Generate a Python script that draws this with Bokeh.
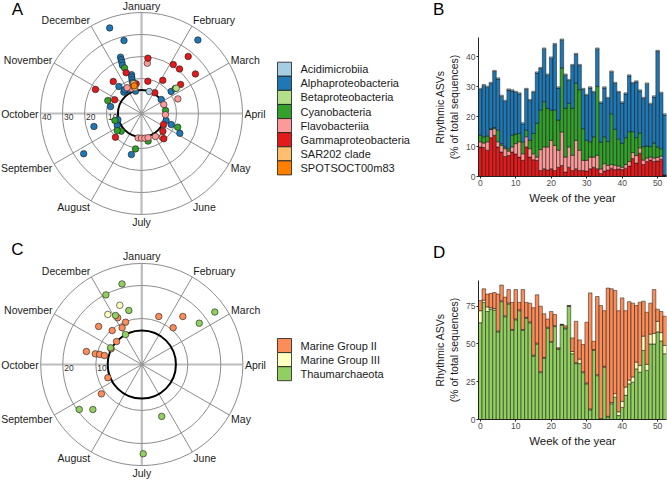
import math
from bokeh.plotting import figure
from bokeh.models import Range1d, FixedTicker, ColumnDataSource, Div
from bokeh.layouts import row, column
from bokeh.embed import file_html
from bokeh.resources import INLINE
from bokeh.core.properties import value

FONT = "Liberation Sans"

months = ["January", "February", "March", "April", "May", "June", "July",
          "August", "September", "October", "November", "December"]

# ---------------- Panel A data (bacteria) ----------------
a_classes = ["Acidimicrobiia", "Alphaproteobacteria", "Betaproteobacteria", "Cyanobacteria",
             "Flavobacteriia", "Gammaproteobacteria", "SAR202 clade", "SPOTSOCT00m83"]
a_colors = ["#a6cee3", "#1f78b4", "#b2df8a", "#33a02c", "#fb9a99", "#e31a1c", "#fdbf6f", "#ff7f00"]

# peak position (month, 0 = start of January) and amplitude for each rhythmic ASV
alpha_month = [11.32, 11.55, 1.25, 11.32, 11.31, 11.30, 11.28, 11.52, 11.50, 11.48, 11.46, 11.02,
               10.68, 11.5, 1.78, 1.82, 9.42, 8.49, 8.50, 7.84, 6.46, 3.53, 3.68, 3.91, 10.67, 10.83, 8.12]
alpha_amp = [35.6, 28.2, 36.2, 21.4, 20.2, 19.0, 17.7, 12.3, 11.2, 10.0, 8.8, 6.4,
             6.7, 4.6, 10.9, 5.1, 8.5, 16.5, 5.2, 26.1, 13.3, 5.7, 8.5, 13.7, 10.1, 7.3, 6.4]
gamma_month = [1.31, 0.22, 1.10, 1.35, 1.79, 0.37, 1.09, 11.31, 10.62, 11.66, 1.09, 9.90,
               9.92, 7.59, 3.89, 4.62, 4.32, 1.78]
gamma_amp = [27.6, 19.4, 20.6, 20.7, 24.5, 9.0, 12.0, 13.9, 13.5, 7.8, 5.3, 7.8,
             17.7, 10.1, 5.3, 9.4, 6.7, 16.2]
flavo_month = [0.22, 2.27, 2.27, 11.27, 11.03, 6.26, 6.0, 5.74, 5.49, 4.63, 4.96, 3.1]
flavo_amp = [17.1, 11.9, 5.0, 6.2, 7.5, 5.3, 5.3, 5.4, 5.5, 8.4, 6.3, 5.0]
cyano_month = [11.32, 1.78, 2.76, 9.70, 8.51, 7.63, 7.83, 5.55, 6.32, 3.69]
cyano_amp = [16.2, 13.2, 5.1, 10.5, 6.6, 6.3, 7.6, 7.0, 10.4, 11.7]
beta_month = [1.80]
beta_amp = [13.6]
acidi_month = [0.64]
acidi_amp = [4.7]
sar202_month = [11.50, 11.51]
sar202_amp = [8.1, 6.2]
spot_month = [11.51]
spot_amp = [7.1]

a_ring_values = [10, 20, 30, 40]
a_threshold = 4.8

# ---------------- Panel C data (archaea) ----------------
c_classes = ["Marine Group II", "Marine Group III", "Thaumarchaeota"]
c_colors = ["#fc8d59", "#ffffbf", "#91cf60"]
mg2_month = [11.09, 11.30, 10.38, 10.63, 11.06, 10.41, 9.44, 9.43, 9.45, 9.45, 8.29, 7.80,
             0.65, 1.35, 1.35, 9.90]
mg2_amp = [12.0, 9.8, 13.5, 9.7, 8.7, 6.4, 13.3, 10.5, 9.2, 7.7, 7.1, 11.2,
           11.5, 15.2, 10.7, 6.5]
mg3_month = [11.32, 10.86]
mg3_amp = [15.2, 14.4]
thaum_month = [11.54, 11.09, 11.55, 11.06, 11.05, 9.94, 7.81, 7.58, 5.30, 5.97, 1.81, 1.81]
thaum_amp = [21.2, 19.8, 12.9, 12.9, 6.4, 6.8, 19.4, 16.2, 12.9, 23.1, 23.3, 17.5]

c_ring_values = [10, 20]
c_max = 26.7
c_threshold = 6.4

# ---------------- Panel B data (weekly stacked, % of total sequences) ----------------
weeks = list(range(53))
b_total = [29.5, 30.8, 30.2, 31.5, 35.5, 33.0, 27.2, 25.5, 29.3, 29.0, 28.5, 28.0, 18.0, 29.5,
           25.8, 28.5, 35.0, 36.5, 43.0, 34.3, 40.0, 44.5, 30.0, 46.0, 34.3, 32.5, 37.5, 41.2,
           37.5, 29.5, 27.5, 30.0, 28.5, 43.0, 25.0, 30.0, 26.5, 35.3, 31.5, 28.5, 25.0, 28.0,
           34.0, 31.5, 32.0, 29.0, 26.5, 31.3, 24.5, 27.0, 42.2, 28.2, 21.0]
b_gamma = [9.9, 9.7, 8.8, 13.0, 13.8, 9.9, 8.2, 6.7, 7.0, 8.2, 7.5, 6.5, 5.4, 9.9,
           6.5, 5.6, 5.4, 2.0, 2.6, 2.2, 2.6, 2.0, 3.1, 3.7, 1.5, 3.1, 2.0, 2.6,
           2.0, 2.0, 1.8, 2.6, 3.1, 2.6, 1.0, 1.8, 2.2, 2.8, 2.3, 2.5, 2.3, 2.8,
           3.5, 6.0, 4.5, 7.8, 4.0, 5.0, 5.5, 5.0, 5.2, 5.8, 0.5]
b_flavo = [1.7, 1.5, 2.8, 2.7, 2.2, 1.7, 2.2, 2.6, 1.5, 1.7, 3.5, 5.1, 2.2, 3.4,
           2.8, 2.0, 1.1, 7.0, 7.3, 7.7, 9.5, 8.4, 5.7, 11.2, 5.0, 6.8, 5.1, 9.5,
           6.8, 3.4, 3.6, 3.9, 3.4, 4.5, 1.5, 2.5, 1.5, 1.2, 1.5, 1.0, 0.8, 1.2,
           1.5, 2.0, 2.5, 1.8, 1.5, 1.2, 1.0, 1.2, 1.2, 1.0, 0.0]
b_cyano = [2.2, 2.1, 1.9, 0.3, 0.4, 3.9, 0.6, 0.6, 0.8, 3.9, 3.2, 2.8, 4.0, 2.2,
           2.8, 6.8, 11.3, 13.2, 15.1, 12.9, 10.1, 11.8, 10.1, 21.4, 16.3, 14.6, 15.7, 19.1,
           20.2, 10.6, 6.7, 5.1, 6.8, 23.0, 9.0, 9.0, 8.0, 17.0, 12.0, 9.0, 8.0, 9.0,
           10.0, 7.0, 6.0, 5.0, 4.5, 4.0, 3.5, 5.0, 3.5, 2.5, 0.0]
b_acidi = [0.4] * 53

# ---------------- Panel D data ----------------
d_total = [78.7, 86.5, 83.0, 83.5, 84.0, 83.0, 89.0, 81.0, 86.0, 77.5, 86.0, 77.5, 86.0, 77.5,
           77.0, 74.0, 82.5, 75.0, 70.0, 66.5, 71.5, 69.5, 47.5, 63.0,
           62.0, 75.5, 54.0, 65.0, 52.7, 49.6, 64.4, 83.8, 51.8, 81.4, 75.4, 72.0, 87.0, 86.5,
           85.4, 72.0, 80.5, 72.0, 78.0, 77.0,
           75.4, 77.6, 78.3, 71.0, 77.0, 86.0, 73.0, 71.5, 68.4]
d_thaum = [64.0, 77.5, 71.5, 73.0, 72.5, 58.0, 78.0, 68.0, 76.5, 59.0, 66.0, 72.0, 59.0, 67.0,
           64.0, 42.0, 50.0, 31.0, 40.5, 60.5, 51.0, 61.5, 46.5, 62.5,
           60.0, 74.8, 43.5, 37.0, 37.0, 31.0, 23.6, 6.4, 45.7, 29.0, 0.0, 34.6, 1.5, 10.4,
           14.8, 2.6, 8.0, 16.0, 23.6, 24.7,
           33.5, 31.3, 45.7, 32.5, 50.0, 50.0, 58.0, 52.0, 43.5]
d_mg3 = [8.0, 1.5, 3.0, 1.0, 1.0, 0.6, 0.6, 0.6, 0.6, 0.6, 0.6, 0.6, 0.6, 0.6,
         0.6, 0.6, 0.6, 0.6, 0.6, 0.6, 0.6, 0.6, 0.4, 0.4,
         0.6, 0.4, 1.5, 0.6, 3.0, 0.6, 0.6, 0.6, 0.6, 0.6, 0.6, 0.6, 0.6, 0.8,
         2.3, 2.5, 4.0, 5.5, 2.5, 3.5,
         4.5, 4.5, 9.5, 4.0, 6.5, 7.0, 7.0, 5.5, 5.5]


def polar_panel(W, H, cx, cy, scale, rmax, rings, ring_labels, threshold, series, letter,
                legend_labels, legend_colors, legend_top):
    off = 13.0 / scale  # radial offset of the zero level (units)
    p = figure(width=W, height=H, x_range=Range1d(-cx / scale, (W - cx) / scale),
               y_range=Range1d(-(H - cy) / scale, cy / scale), output_backend="svg",
               toolbar_location=None, min_border=0, x_axis_type=None, y_axis_type=None)
    p.frame_align = False
    p.grid.visible = False
    p.outline_line_color = None
    R = rmax + off
    xs0, ys0, xs1, ys1 = [], [], [], []
    for k in range(12):
        t = math.radians(k * 30)
        if k % 3 == 0:
            p.segment(x0=[0], y0=[0], x1=[R * math.sin(t)], y1=[R * math.cos(t)],
                      line_color="#bdbdbd", line_width=2.2)
        else:
            xs0.append(0); ys0.append(0); xs1.append(R * math.sin(t)); ys1.append(R * math.cos(t))
    p.segment(x0=xs0, y0=ys0, x1=xs1, y1=ys1, line_color="#8c8c8c", line_width=1)
    p.circle(x=[0] * len(rings), y=[0] * len(rings), radius=[v + off for v in rings],
             fill_color=None, line_color="#8c8c8c", line_width=1)
    p.circle(x=[0], y=[0], radius=[threshold + off], fill_color=None, line_color="black",
             line_width=2)
    p.scatter(x=[0], y=[0], size=4, fill_color="#9a9a9a", line_color=None)
    # radial labels
    p.text(x=[-(v + off) + 1.5 / scale for v in ring_labels], y=[-0.5 / scale] * len(ring_labels),
           text=[str(v) for v in ring_labels], text_align="left", text_baseline="top",
           text_font=value(FONT), text_font_size="8.5px", text_color="#333333")
    # month labels
    lx, ly, la = [], [], []
    for k, m in enumerate(months):
        t = math.radians(k * 30)
        s, c = math.sin(t), math.cos(t)
        if s > 0.01:
            al = "left"
        elif s < -0.01:
            al = "right"
        else:
            al = "center"
        lx.append(R * s + 2.0 * s / scale)
        ly.append(R * c + 7.0 * c / scale)
        la.append(al)
    src = ColumnDataSource(dict(x=lx, y=ly, t=months, a=la))
    p.text(x="x", y="y", text="t", text_align="a", source=src, text_baseline="middle",
           text_font=value(FONT), text_font_size="10.5px", text_color="#1a1a1a")
    # points
    for mon, amp, col in series:
        px = [(a + off) * math.sin(math.radians(mm * 30)) for mm, a in zip(mon, amp)]
        py = [(a + off) * math.cos(math.radians(mm * 30)) for mm, a in zip(mon, amp)]
        p.scatter(x=px, y=py, size=6.5, fill_color=col, line_color="#1a1a1a", line_width=0.6)
    # panel letter
    p.text(x=[(17 - cx) / scale], y=[(cy - 9) / scale], text=[letter], text_align="center",
           text_baseline="middle", text_font=value(FONT), text_font_size="17px", text_color="black")
    # legend (manual swatches)
    n = len(legend_labels)
    ycs = [legend_top + 7 + 14.1 * i for i in range(n)]
    p.rect(x=[(284 - cx) / scale] * n, y=[(cy - yc) / scale for yc in ycs], width=14, height=14,
           width_units="screen", height_units="screen", fill_color=legend_colors,
           line_color="#1a1a1a", line_width=0.8)
    p.text(x=[(300 - cx) / scale] * n, y=[(cy - yc) / scale for yc in ycs], text=legend_labels,
           text_align="left", text_baseline="middle", text_font=value(FONT),
           text_font_size="11px", text_color="#1a1a1a")
    return p


a_series = [
    (alpha_month, alpha_amp, a_colors[1]),
    (cyano_month, cyano_amp, a_colors[3]),
    (flavo_month, flavo_amp, a_colors[4]),
    (gamma_month, gamma_amp, a_colors[5]),
    (beta_month, beta_amp, a_colors[2]),
    (acidi_month, acidi_amp, a_colors[0]),
    (sar202_month, sar202_amp, a_colors[6]),
    (spot_month, spot_amp, a_colors[7]),
]
pA = polar_panel(430, 240, 141, 113, 2.2, 40, a_ring_values, a_ring_values, a_threshold,
                 a_series, "A", a_classes, a_colors, 61.7)

c_series = [
    (mg2_month, mg2_amp, c_colors[0]),
    (mg3_month, mg3_amp, c_colors[1]),
    (thaum_month, thaum_amp, c_colors[2]),
]
pC = polar_panel(430, 240, 141.3, 124, 3.3, c_max, c_ring_values + [c_max], c_ring_values,
                 c_threshold, c_series, "C", c_classes, c_colors, 98)


def style_bar(p, xticks, yticks):
    p.frame_align = False
    p.grid.visible = False
    p.outline_line_color = None
    p.xaxis.ticker = FixedTicker(ticks=xticks)
    p.yaxis.ticker = FixedTicker(ticks=yticks)
    for ax in (p.xaxis, p.yaxis):
        ax.axis_line_color = "#222222"
        ax.major_tick_line_color = "#222222"
        ax.major_tick_out = 2
        ax.major_tick_in = 0
        ax.minor_tick_line_color = None
        ax.major_label_text_font = FONT
        ax.major_label_text_font_size = "8.5px"
        ax.major_label_text_color = "#4d4d4d"
        ax.major_label_standoff = 1
        ax.axis_label_text_font = FONT
        ax.axis_label_text_font_style = "normal"
        ax.axis_label_text_color = "#1a1a1a"
        ax.axis_label_standoff = 3
    p.xaxis.axis_label_text_font_size = "11.5px"
    p.yaxis.axis_label_text_font_size = "10.5px"
    p.xaxis.axis_label = "Week of the year"
    p.yaxis.axis_label = "Rhythmic ASVs\n(% of total sequences)"


def letter_div(letter, h):
    return Div(text=letter, width=237, height=h, margin=0,
               styles={"font-family": FONT, "font-size": "17px", "line-height": "%dpx" % h,
                       "color": "black", "padding-left": "3px", "overflow": "hidden"})


b_alpha = [t - g - f - c - a for t, g, f, c, a in zip(b_total, b_gamma, b_flavo, b_cyano, b_acidi)]
srcB = ColumnDataSource(dict(week=weeks, g=b_gamma, f=b_flavo, c=b_cyano, al=b_alpha, ac=b_acidi))
pB = figure(width=237, height=220, x_range=Range1d(-0.5, 52.5), y_range=Range1d(0, 46.5),
            output_backend="svg", toolbar_location=None, min_border_left=44,
            min_border_right=1, min_border_top=17, min_border_bottom=64)
pB.vbar_stack(["g", "f", "c", "al", "ac"], x="week", width=1, source=srcB,
              color=[a_colors[5], a_colors[4], a_colors[3], a_colors[1], a_colors[0]],
              line_color="#111111", line_width=0.5)
style_bar(pB, [0, 10, 20, 30, 40, 50], [0, 10, 20, 30, 40])

d_mg2 = [max(t - g - y, 0) for t, g, y in zip(d_total, d_thaum, d_mg3)]
srcD = ColumnDataSource(dict(week=weeks, th=d_thaum, m3=d_mg3, m2=d_mg2))
pD = figure(width=237, height=214, x_range=Range1d(-0.5, 52.5), y_range=Range1d(0, 92),
            output_backend="svg", toolbar_location=None, min_border_left=43,
            min_border_right=1, min_border_top=14, min_border_bottom=61)
pD.vbar_stack(["th", "m3", "m2"], x="week", width=1, source=srcD,
              color=[c_colors[2], c_colors[1], c_colors[0]],
              line_color="#111111", line_width=0.5)
style_bar(pD, [0, 10, 20, 30, 40, 50], [0, 25, 50, 75])

layout = column(row(pA, column(letter_div("B", 20), pB)),
                row(pC, column(letter_div("D", 26), pD)))
open("out.html", "w").write(file_html(layout, INLINE))
